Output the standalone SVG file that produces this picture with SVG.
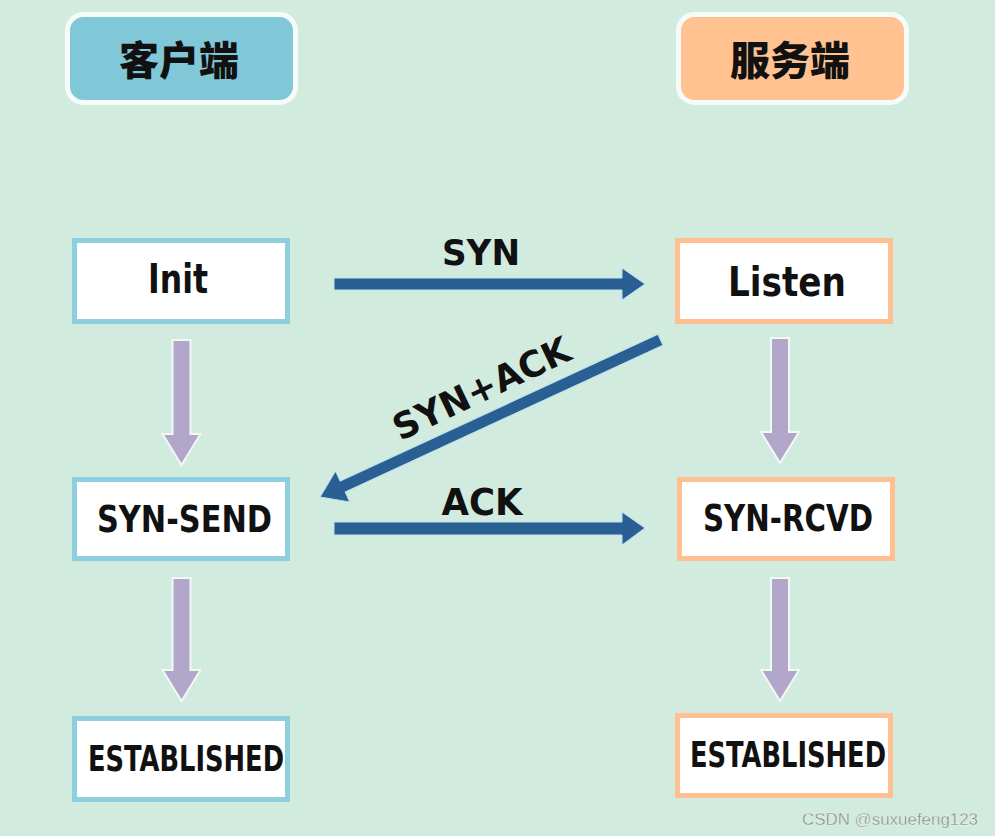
<svg xmlns="http://www.w3.org/2000/svg" width="995" height="836" viewBox="0 0 995 836">
<defs>
<style>
.hdr-c{fill:#80c7d7;stroke:#f4fbf8;stroke-width:5}
.hdr-s{fill:#ffc290;stroke:#f4fbf8;stroke-width:5}
.hdr-t{font-family:"Noto Sans CJK SC","Noto Sans",sans-serif;font-weight:900;font-size:40px;fill:#111;text-anchor:middle}
.box-c{fill:#fefffe;stroke:#8dcfdf;stroke-width:5}
.box-s{fill:#fefffe;stroke:#ffbf90;stroke-width:5}
.lbl{font-family:"DejaVu Sans Condensed","DejaVu Sans",sans-serif;font-weight:bold;fill:#111;text-anchor:middle}
.down{fill:#b3a6cb;stroke:#f2f8f4;stroke-width:2}
.msg{fill:#2a5f93;stroke:#bfe3f0;stroke-width:1}
</style>
</defs>
<rect width="995" height="836" fill="#d1ebdf"/>

<g id="client-header">
<rect class="hdr-c" x="67.5" y="14.5" width="228" height="88" rx="16"/>
<text class="hdr-t" x="179" y="75">客户端</text>
</g>
<g id="server-header">
<rect class="hdr-s" x="678.5" y="14.5" width="228" height="88" rx="16"/>
<text class="hdr-t" x="790" y="75">服务端</text>
</g>

<g id="init">
<rect class="box-c" x="74.5" y="240.5" width="213" height="81"/>
<text class="lbl" x="178" y="293" font-size="40" textLength="60" lengthAdjust="spacingAndGlyphs">Init</text>
</g>
<g id="syn-send">
<rect class="box-c" x="74.5" y="479.5" width="213" height="79"/>
<text class="lbl" x="184.5" y="532" font-size="38" textLength="175" lengthAdjust="spacingAndGlyphs">SYN-SEND</text>
</g>
<g id="established-client">
<rect class="box-c" x="74.5" y="718.5" width="213" height="81"/>
<text class="lbl" x="186" y="771" font-size="36" textLength="196" lengthAdjust="spacingAndGlyphs">ESTABLISHED</text>
</g>
<g id="listen">
<rect class="box-s" x="677.5" y="240.5" width="213" height="81"/>
<text class="lbl" x="787" y="296" font-size="40" textLength="118" lengthAdjust="spacingAndGlyphs">Listen</text>
</g>
<g id="syn-rcvd">
<rect class="box-s" x="679.5" y="479.5" width="213" height="79"/>
<text class="lbl" x="788" y="531" font-size="38" textLength="170" lengthAdjust="spacingAndGlyphs">SYN-RCVD</text>
</g>
<g id="established-server">
<rect class="box-s" x="677.5" y="715.5" width="213" height="80"/>
<text class="lbl" x="788" y="767" font-size="36" textLength="196" lengthAdjust="spacingAndGlyphs">ESTABLISHED</text>
</g>

<g id="connectors">
<polygon class="down" points="172.5,340 190.5,340 190.5,434 200.5,434 181.5,465 162.5,434 172.5,434"/>
<polygon class="down" points="172.5,578 190.5,578 190.5,670 200.5,670 181.5,701 162.5,670 172.5,670"/>
<polygon class="down" points="771,338 789,338 789,432 799,432 780,463 761,432 771,432"/>
<polygon class="down" points="771,578 789,578 789,670 799,670 780,701 761,670 771,670"/>

<polygon class="msg" points="334,278 622,278 622,268 645,284 622,300 622,290 334,290"/>
<polygon class="msg" points="334,522 622,522 622,512 645,528 622,545 622,535 334,535"/>
<g transform="translate(320,497) rotate(-24.8)">
<polygon class="msg" points="0,0 25,-17 25,-6 375,-6 375,6 25,6 25,17"/>
</g>

<text class="lbl" x="481" y="265" font-size="36" textLength="78" lengthAdjust="spacingAndGlyphs">SYN</text>
<text class="lbl" x="482" y="515" font-size="38" textLength="81" lengthAdjust="spacingAndGlyphs">ACK</text>
<text class="lbl" transform="translate(487,400) rotate(-25.5)" x="0" y="0" font-size="36" textLength="192" lengthAdjust="spacingAndGlyphs">SYN+ACK</text>
</g>

<text x="802" y="825" font-family="'Liberation Sans', Arial, sans-serif" font-size="16" fill="#7e8582" stroke="#ffffff" stroke-width="0.3" textLength="176" lengthAdjust="spacingAndGlyphs">CSDN @suxuefeng123</text>
</svg>
